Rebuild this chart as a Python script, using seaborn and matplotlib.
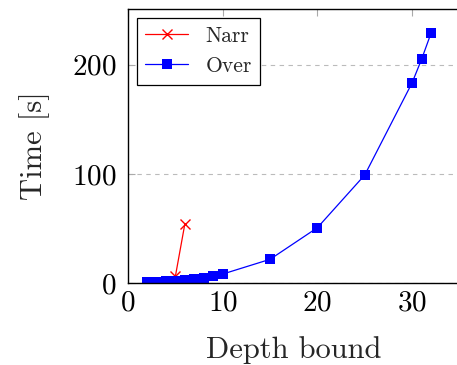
import matplotlib
matplotlib.use("Agg")
import matplotlib.pyplot as plt
import seaborn as sns
import pandas as pd

narr_depth = [5, 6]
narr_time = [6, 54]
over_depth = [2, 3, 4, 5, 6, 7, 8, 9, 10, 15, 20, 25, 30, 31, 32]
over_time = [0.8, 1.2, 1.7, 2.2, 2.8, 3.6, 4.5, 6.2, 8.2, 21.7, 50.7, 99, 183.5, 205, 229]
x_ticks = [0, 10, 20, 30]
y_ticks = [0, 100, 200]

sns.set_style("white")
plt.rcParams['font.family'] = ['cmr10', 'DejaVu Serif']
plt.rcParams['mathtext.fontset'] = 'cm'
plt.rcParams['axes.formatter.use_mathtext'] = True

df_narr = pd.DataFrame({"Depth": narr_depth, "Time": narr_time})
df_over = pd.DataFrame({"Depth": over_depth, "Time": over_time})

fig = plt.figure(figsize=(4.57, 3.65), dpi=100)
ax = fig.add_axes([128 / 457, 82 / 365, 331.5 / 457, 274 / 365])

sns.lineplot(data=df_narr, x="Depth", y="Time", ax=ax, color="red", marker="x",
             markersize=7, markeredgewidth=1.0, markeredgecolor="red",
             linewidth=0.9, label="Narr")
sns.lineplot(data=df_over, x="Depth", y="Time", ax=ax, color="blue", marker="s",
             markersize=6.5, markeredgewidth=0, markeredgecolor="blue",
             linewidth=0.9, label="Over")

ax.set_xlim(0, 35)
ax.set_ylim(0, 251)
ax.set_xticks(x_ticks)
ax.set_yticks(y_ticks)
ax.set_xlabel("Depth bound", fontsize=22, labelpad=14)
ax.set_ylabel("Time [s]", fontsize=22, labelpad=16)
ax.tick_params(axis="both", which="major", direction="in", length=5, width=0.8,
               color="#aaaaaa", labelcolor="black", labelsize=21)
ax.tick_params(axis="x", top=True, pad=5)
ax.tick_params(axis="y", pad=8, left=True)
ax.yaxis.grid(True, linestyle=(0, (4, 4)), color="#bbbbbb", linewidth=0.8)
ax.xaxis.grid(False)
for s in ["left", "bottom", "top", "right"]:
    ax.spines[s].set_color("black")
    ax.spines[s].set_linewidth(1.0)

leg = ax.legend(loc="upper left", fontsize=15.5, frameon=True, fancybox=False,
                edgecolor="black", framealpha=1, borderaxespad=0.4,
                handlelength=2.0, borderpad=0.4, labelspacing=0.5)
leg.get_frame().set_linewidth(0.9)

fig.savefig("out.png", dpi=100)
